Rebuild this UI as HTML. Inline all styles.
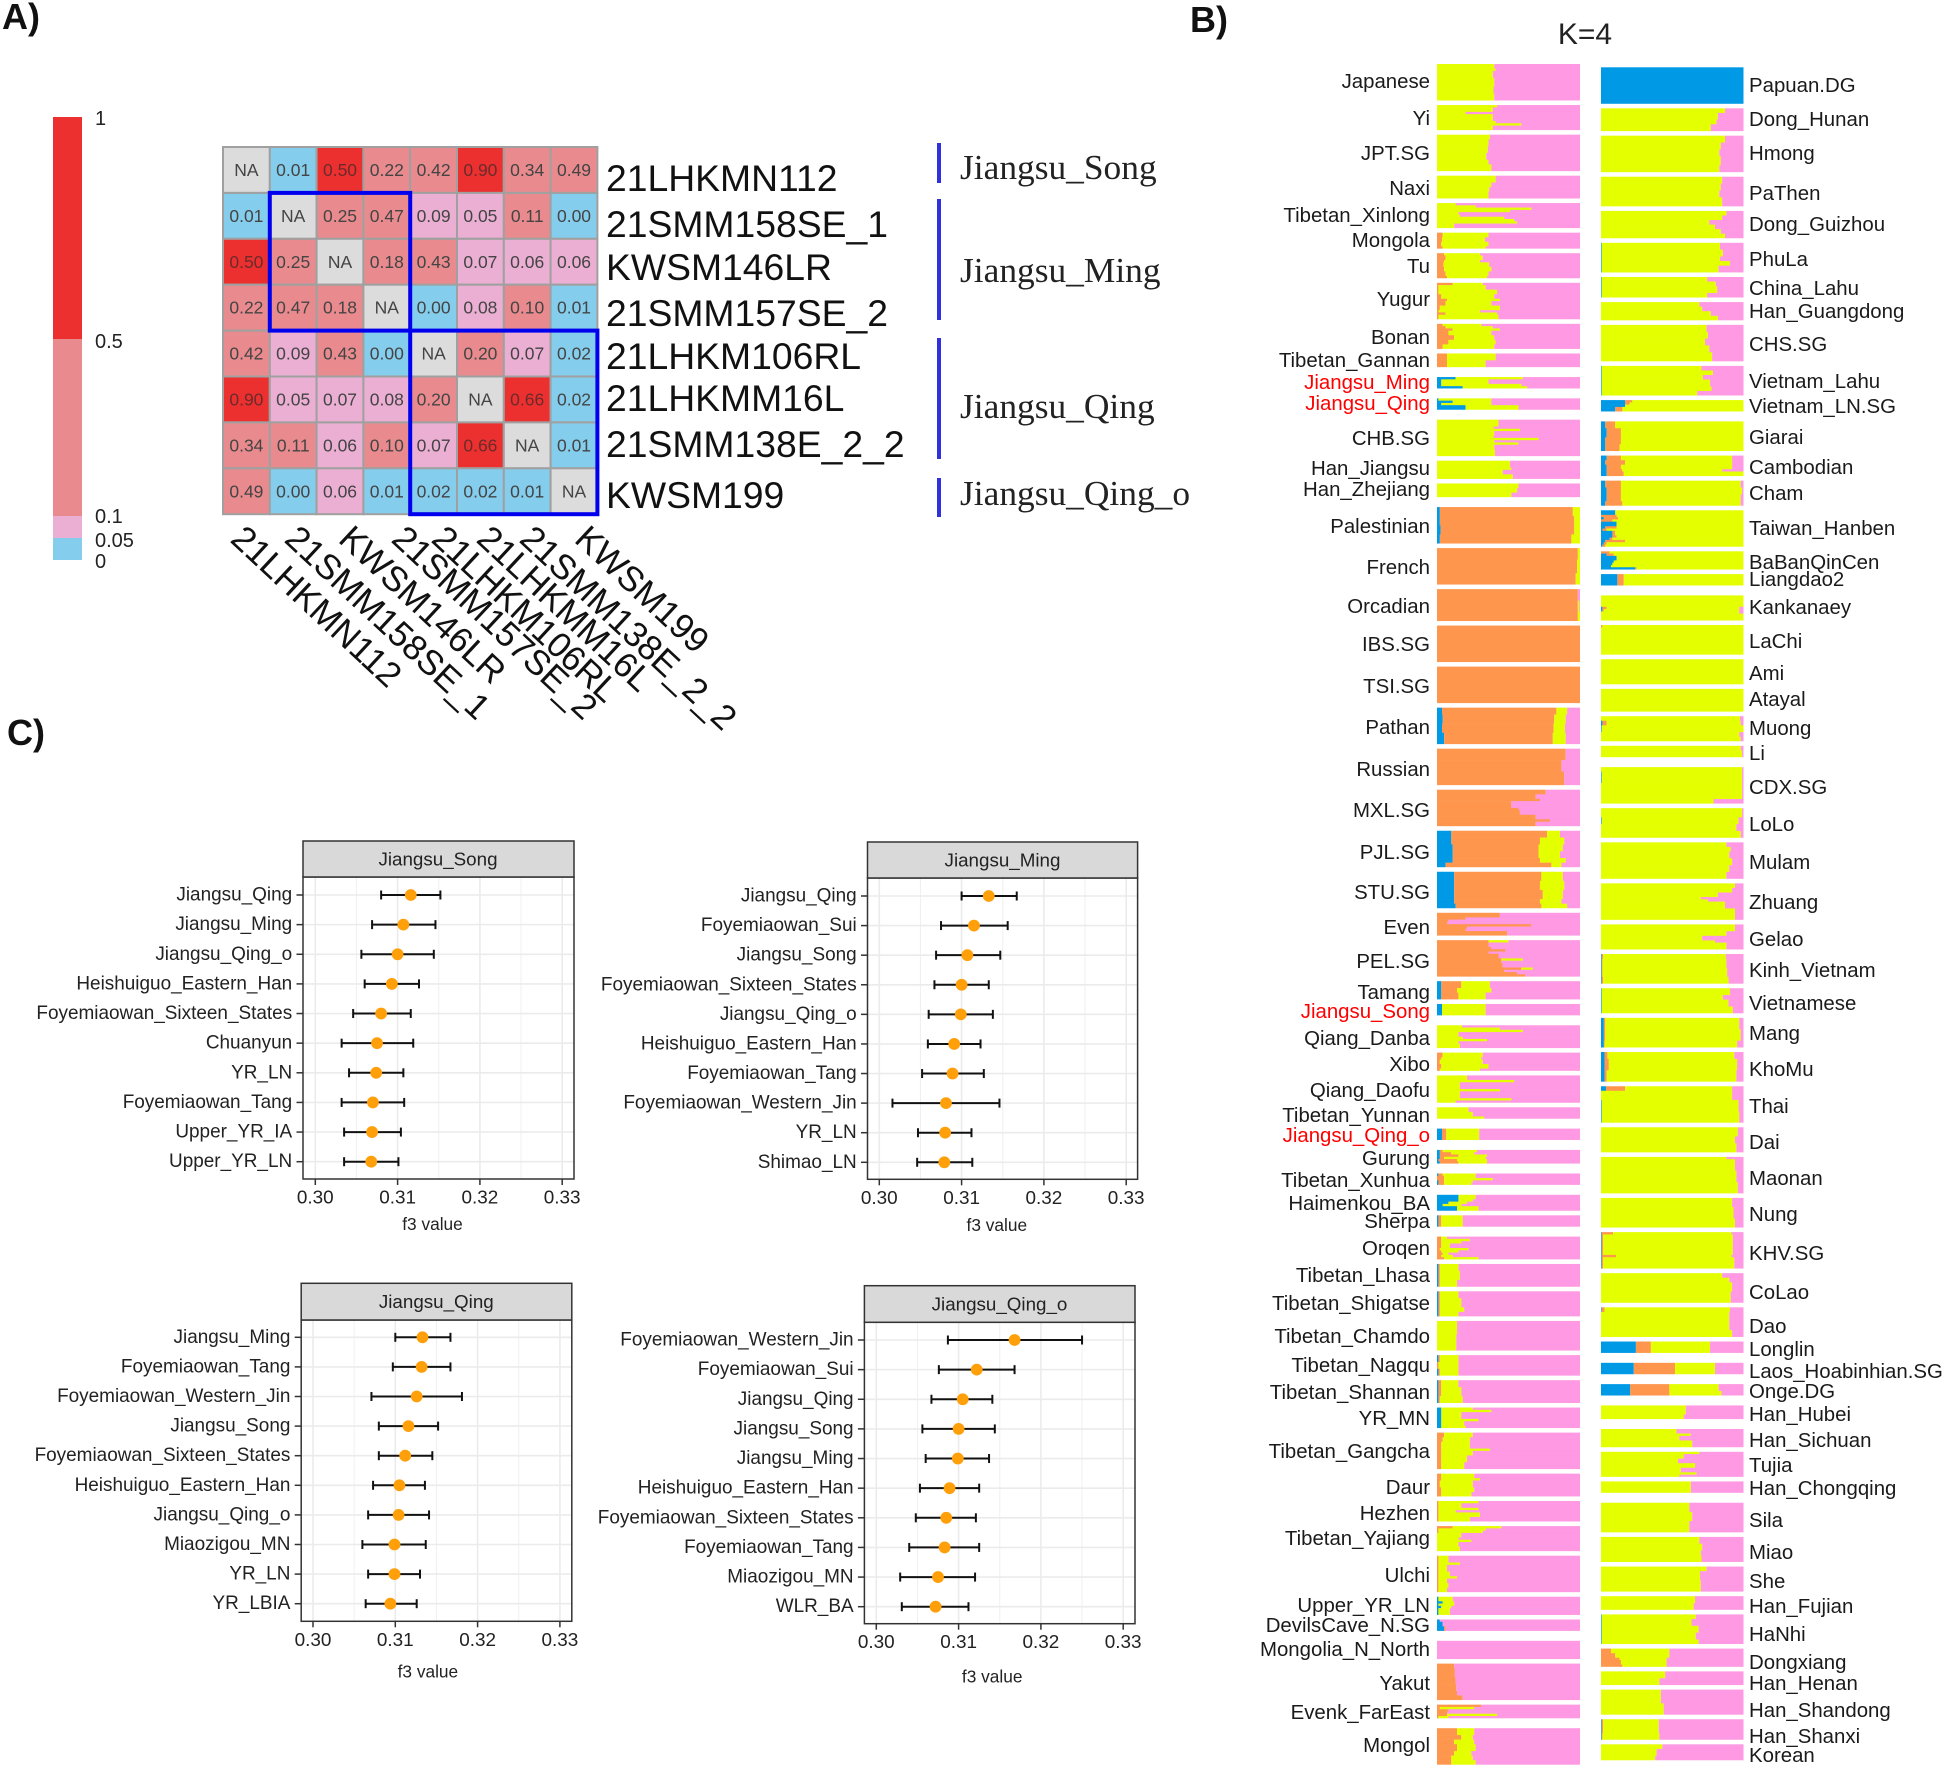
<!DOCTYPE html>
<html lang="en">
<head>
<meta charset="utf-8">
<title>Kinship heatmap, ADMIXTURE K=4 and f3 statistics</title>
<style>
html,body{margin:0;padding:0;background:#fff;}
svg{display:block;font-family:"Liberation Sans",sans-serif;}
.pl{font-size:20.4px;fill:#1a1a1a;dominant-baseline:central;}
.pe{text-anchor:end;}
.red{fill:#f00;}
.sn{font-size:37.3px;fill:#111;dominant-baseline:central;}
.gr{font-family:"Liberation Serif",serif;font-size:35.4px;fill:#222;dominant-baseline:central;}
.lg{font-size:20px;fill:#222;dominant-baseline:central;}
.pa{font-size:36px;font-weight:bold;fill:#111;}
</style>
</head>
<body>
<svg id="figure" xmlns="http://www.w3.org/2000/svg" width="1946" height="1768" viewBox="0 0 1946 1768">
<rect x="0" y="0" width="1946" height="1768" fill="#fff"/>
<text class="pa" x="2" y="29">A)</text>
<text class="pa" x="1190" y="32">B)</text>
<text class="pa" x="7" y="745">C)</text>
<text x="1585" y="44" text-anchor="middle" font-size="30" fill="#222">K=4</text>

<g id="heat-legend">
<text class="lg" x="95" y="119">1</text>
<text class="lg" x="95" y="342">0.5</text>
<text class="lg" x="95" y="517">0.1</text>
<text class="lg" x="95" y="541">0.05</text>
<text class="lg" x="95" y="562">0</text>
</g>
<g id="heatmap"></g>

<g>
<text class="sn" x="606" y="178">21LHKMN112</text>
<text class="sn" x="606" y="224">21SMM158SE_1</text>
<text class="sn" x="606" y="267">KWSM146LR</text>
<text class="sn" x="606" y="313">21SMM157SE_2</text>
<text class="sn" x="606" y="356">21LHKM106RL</text>
<text class="sn" x="606" y="398">21LHKMM16L</text>
<text class="sn" x="606" y="444">21SMM138E_2_2</text>
<text class="sn" x="606" y="495">KWSM199</text>
</g>
<g font-size="35" fill="#111">
<text transform="translate(229,541) rotate(43)">21LHKMN112</text>
<text transform="translate(283,541) rotate(43)">21SMM158SE_1</text>
<text transform="translate(337,541) rotate(43)">KWSM146LR</text>
<text transform="translate(390,541) rotate(43)">21SMM157SE_2</text>
<text transform="translate(430,541) rotate(43)">21LHKM106RL</text>
<text transform="translate(475,541) rotate(43)">21LHKMM16L</text>
<text transform="translate(518,541) rotate(43)">21SMM138E_2_2</text>
<text transform="translate(573,541) rotate(43)">KWSM199</text>
</g>
<g fill="#3030dd">
<rect x="937" y="143" width="4" height="40"/>
<rect x="937" y="199" width="4" height="121"/>
<rect x="937" y="338" width="4" height="121"/>
<rect x="937" y="478" width="4" height="39"/>
</g>
<text class="gr" x="960" y="167">Jiangsu_Song</text>
<text class="gr" x="960" y="270">Jiangsu_Ming</text>
<text class="gr" x="960" y="406">Jiangsu_Qing</text>
<text class="gr" x="960" y="493">Jiangsu_Qing_o</text>

<g id="structure-left"></g>
<g id="structure-right"></g>

<g transform="translate(0,1)">
<text class="pl pe" x="1430" y="81">Japanese</text>
<text class="pl pe" x="1430" y="118">Yi</text>
<text class="pl pe" x="1430" y="153">JPT.SG</text>
<text class="pl pe" x="1430" y="188">Naxi</text>
<text class="pl pe" x="1430" y="215">Tibetan_Xinlong</text>
<text class="pl pe" x="1430" y="240">Mongola</text>
<text class="pl pe" x="1430" y="266">Tu</text>
<text class="pl pe" x="1430" y="299">Yugur</text>
<text class="pl pe" x="1430" y="337">Bonan</text>
<text class="pl pe" x="1430" y="360">Tibetan_Gannan</text>
<text class="pl pe red" x="1430" y="382">Jiangsu_Ming</text>
<text class="pl pe red" x="1430" y="403">Jiangsu_Qing</text>
<text class="pl pe" x="1430" y="438">CHB.SG</text>
<text class="pl pe" x="1430" y="468">Han_Jiangsu</text>
<text class="pl pe" x="1430" y="489">Han_Zhejiang</text>
<text class="pl pe" x="1430" y="526">Palestinian</text>
<text class="pl pe" x="1430" y="567">French</text>
<text class="pl pe" x="1430" y="606">Orcadian</text>
<text class="pl pe" x="1430" y="644">IBS.SG</text>
<text class="pl pe" x="1430" y="686">TSI.SG</text>
<text class="pl pe" x="1430" y="727">Pathan</text>
<text class="pl pe" x="1430" y="769">Russian</text>
<text class="pl pe" x="1430" y="810">MXL.SG</text>
<text class="pl pe" x="1430" y="852">PJL.SG</text>
<text class="pl pe" x="1430" y="892">STU.SG</text>
<text class="pl pe" x="1430" y="927">Even</text>
<text class="pl pe" x="1430" y="961">PEL.SG</text>
<text class="pl pe" x="1430" y="992">Tamang</text>
<text class="pl pe red" x="1430" y="1011">Jiangsu_Song</text>
<text class="pl pe" x="1430" y="1038">Qiang_Danba</text>
<text class="pl pe" x="1430" y="1064">Xibo</text>
<text class="pl pe" x="1430" y="1090">Qiang_Daofu</text>
<text class="pl pe" x="1430" y="1115">Tibetan_Yunnan</text>
<text class="pl pe red" x="1430" y="1135">Jiangsu_Qing_o</text>
<text class="pl pe" x="1430" y="1158">Gurung</text>
<text class="pl pe" x="1430" y="1180">Tibetan_Xunhua</text>
<text class="pl pe" x="1430" y="1203">Haimenkou_BA</text>
<text class="pl pe" x="1430" y="1221">Sherpa</text>
<text class="pl pe" x="1430" y="1248">Oroqen</text>
<text class="pl pe" x="1430" y="1275">Tibetan_Lhasa</text>
<text class="pl pe" x="1430" y="1303">Tibetan_Shigatse</text>
<text class="pl pe" x="1430" y="1336">Tibetan_Chamdo</text>
<text class="pl pe" x="1430" y="1365">Tibetan_Nagqu</text>
<text class="pl pe" x="1430" y="1392">Tibetan_Shannan</text>
<text class="pl pe" x="1430" y="1418">YR_MN</text>
<text class="pl pe" x="1430" y="1451">Tibetan_Gangcha</text>
<text class="pl pe" x="1430" y="1487">Daur</text>
<text class="pl pe" x="1430" y="1513">Hezhen</text>
<text class="pl pe" x="1430" y="1538">Tibetan_Yajiang</text>
<text class="pl pe" x="1430" y="1575">Ulchi</text>
<text class="pl pe" x="1430" y="1605">Upper_YR_LN</text>
<text class="pl pe" x="1430" y="1625">DevilsCave_N.SG</text>
<text class="pl pe" x="1430" y="1649">Mongolia_N_North</text>
<text class="pl pe" x="1430" y="1683">Yakut</text>
<text class="pl pe" x="1430" y="1712">Evenk_FarEast</text>
<text class="pl pe" x="1430" y="1745">Mongol</text>
</g>
<g transform="translate(0,1)">
<text class="pl" x="1749" y="85">Papuan.DG</text>
<text class="pl" x="1749" y="119">Dong_Hunan</text>
<text class="pl" x="1749" y="153">Hmong</text>
<text class="pl" x="1749" y="193">PaThen</text>
<text class="pl" x="1749" y="224">Dong_Guizhou</text>
<text class="pl" x="1749" y="259">PhuLa</text>
<text class="pl" x="1749" y="288">China_Lahu</text>
<text class="pl" x="1749" y="311">Han_Guangdong</text>
<text class="pl" x="1749" y="344">CHS.SG</text>
<text class="pl" x="1749" y="381">Vietnam_Lahu</text>
<text class="pl" x="1749" y="406">Vietnam_LN.SG</text>
<text class="pl" x="1749" y="437">Giarai</text>
<text class="pl" x="1749" y="467">Cambodian</text>
<text class="pl" x="1749" y="493">Cham</text>
<text class="pl" x="1749" y="528">Taiwan_Hanben</text>
<text class="pl" x="1749" y="562">BaBanQinCen</text>
<text class="pl" x="1749" y="579">Liangdao2</text>
<text class="pl" x="1749" y="607">Kankanaey</text>
<text class="pl" x="1749" y="641">LaChi</text>
<text class="pl" x="1749" y="673">Ami</text>
<text class="pl" x="1749" y="699">Atayal</text>
<text class="pl" x="1749" y="728">Muong</text>
<text class="pl" x="1749" y="753">Li</text>
<text class="pl" x="1749" y="787">CDX.SG</text>
<text class="pl" x="1749" y="824">LoLo</text>
<text class="pl" x="1749" y="862">Mulam</text>
<text class="pl" x="1749" y="902">Zhuang</text>
<text class="pl" x="1749" y="939">Gelao</text>
<text class="pl" x="1749" y="970">Kinh_Vietnam</text>
<text class="pl" x="1749" y="1003">Vietnamese</text>
<text class="pl" x="1749" y="1033">Mang</text>
<text class="pl" x="1749" y="1069">KhoMu</text>
<text class="pl" x="1749" y="1106">Thai</text>
<text class="pl" x="1749" y="1142">Dai</text>
<text class="pl" x="1749" y="1178">Maonan</text>
<text class="pl" x="1749" y="1214">Nung</text>
<text class="pl" x="1749" y="1253">KHV.SG</text>
<text class="pl" x="1749" y="1292">CoLao</text>
<text class="pl" x="1749" y="1326">Dao</text>
<text class="pl" x="1749" y="1349">Longlin</text>
<text class="pl" x="1749" y="1371">Laos_Hoabinhian.SG</text>
<text class="pl" x="1749" y="1391">Onge.DG</text>
<text class="pl" x="1749" y="1414">Han_Hubei</text>
<text class="pl" x="1749" y="1440">Han_Sichuan</text>
<text class="pl" x="1749" y="1465">Tujia</text>
<text class="pl" x="1749" y="1488">Han_Chongqing</text>
<text class="pl" x="1749" y="1520">Sila</text>
<text class="pl" x="1749" y="1552">Miao</text>
<text class="pl" x="1749" y="1581">She</text>
<text class="pl" x="1749" y="1606">Han_Fujian</text>
<text class="pl" x="1749" y="1634">HaNhi</text>
<text class="pl" x="1749" y="1662">Dongxiang</text>
<text class="pl" x="1749" y="1683">Han_Henan</text>
<text class="pl" x="1749" y="1710">Han_Shandong</text>
<text class="pl" x="1749" y="1736">Han_Shanxi</text>
<text class="pl" x="1749" y="1755">Korean</text>
</g>

<g id="forest-song"></g>
<g id="forest-ming"></g>
<g id="forest-qing"></g>
<g id="forest-qingo"></g>
</svg>

<script>
/* ---------- Heatmap data ---------- */
const kinshipMatrix = [
  [null,0.01,0.50,0.22,0.42,0.90,0.34,0.49],
  [0.01,null,0.25,0.47,0.09,0.05,0.11,0.00],
  [0.50,0.25,null,0.18,0.43,0.07,0.06,0.06],
  [0.22,0.47,0.18,null,0.00,0.08,0.10,0.01],
  [0.42,0.09,0.43,0.00,null,0.20,0.07,0.02],
  [0.90,0.05,0.07,0.08,0.20,null,0.66,0.02],
  [0.34,0.11,0.06,0.10,0.07,0.66,null,0.01],
  [0.49,0.00,0.06,0.01,0.02,0.02,0.01,null]
];
const legendBreaks = [1,0.5,0.1,0.05,0];

/* ---------- f3 data ---------- */
const songLabels = ["Jiangsu_Qing","Jiangsu_Ming","Jiangsu_Qing_o","Heishuiguo_Eastern_Han","Foyemiaowan_Sixteen_States","Chuanyun","YR_LN","Foyemiaowan_Tang","Upper_YR_IA","Upper_YR_LN"];
const songF3 = [0.3116,0.3107,0.3100,0.3093,0.3080,0.3075,0.3074,0.3070,0.3069,0.3068];
const songLow = [0.3080,0.3069,0.3056,0.3060,0.3046,0.3032,0.3041,0.3032,0.3035,0.3035];
const songHigh = [0.3152,0.3146,0.3144,0.3126,0.3116,0.3119,0.3107,0.3108,0.3104,0.3101];

const mingLabels = ["Jiangsu_Qing","Foyemiaowan_Sui","Jiangsu_Song","Foyemiaowan_Sixteen_States","Jiangsu_Qing_o","Heishuiguo_Eastern_Han","Foyemiaowan_Tang","Foyemiaowan_Western_Jin","YR_LN","Shimao_LN"];
const mingF3 = [0.3133,0.3115,0.3107,0.3100,0.3099,0.3091,0.3089,0.3081,0.3080,0.3079];
const mingLow = [0.3100,0.3075,0.3069,0.3067,0.3060,0.3059,0.3052,0.3016,0.3047,0.3046];
const mingHigh = [0.3167,0.3156,0.3147,0.3133,0.3138,0.3123,0.3127,0.3146,0.3112,0.3113];

const qingLabels = ["Jiangsu_Ming","Foyemiaowan_Tang","Foyemiaowan_Western_Jin","Jiangsu_Song","Foyemiaowan_Sixteen_States","Heishuiguo_Eastern_Han","Jiangsu_Qing_o","Miaozigou_MN","YR_LN","YR_LBIA"];
const qingF3 = [0.3133,0.3132,0.3126,0.3116,0.3112,0.3105,0.3104,0.3099,0.3099,0.3094];
const qingLow = [0.3100,0.3097,0.3071,0.3080,0.3080,0.3073,0.3067,0.3060,0.3067,0.3064];
const qingHigh = [0.3167,0.3167,0.3181,0.3152,0.3145,0.3136,0.3141,0.3137,0.3130,0.3126];

const qingoLabels = ["Foyemiaowan_Western_Jin","Foyemiaowan_Sui","Jiangsu_Qing","Jiangsu_Song","Jiangsu_Ming","Heishuiguo_Eastern_Han","Foyemiaowan_Sixteen_States","Foyemiaowan_Tang","Miaozigou_MN","WLR_BA"];
const qingoF3 = [0.3168,0.3122,0.3105,0.3100,0.3099,0.3089,0.3085,0.3083,0.3075,0.3072];
const qingoLow = [0.3087,0.3076,0.3067,0.3056,0.3060,0.3053,0.3048,0.3040,0.3029,0.3031];
const qingoHigh = [0.3250,0.3168,0.3141,0.3144,0.3137,0.3125,0.3121,0.3125,0.3120,0.3112];

const f3Ticks = [0.30,0.31,0.32,0.33];
const f3MinorTicks = [0.305,0.315,0.325];

/* ---------- ADMIXTURE data: each profile row = [individuals, blue %, orange %, yellow %]; pink is the rest ---------- */
const leftPopulations = ["Japanese","Yi","JPT.SG","Naxi","Tibetan_Xinlong","Mongola","Tu","Yugur","Bonan","Tibetan_Gannan","Jiangsu_Ming","Jiangsu_Qing","CHB.SG","Han_Jiangsu","Han_Zhejiang","Palestinian","French","Orcadian","IBS.SG","TSI.SG","Pathan","Russian","MXL.SG","PJL.SG","STU.SG","Even","PEL.SG","Tamang","Jiangsu_Song","Qiang_Danba","Xibo","Qiang_Daofu","Tibetan_Yunnan","Jiangsu_Qing_o","Gurung","Tibetan_Xunhua","Haimenkou_BA","Sherpa","Oroqen","Tibetan_Lhasa","Tibetan_Shigatse","Tibetan_Chamdo","Tibetan_Nagqu","Tibetan_Shannan","YR_MN","Tibetan_Gangcha","Daur","Hezhen","Tibetan_Yajiang","Ulchi","Upper_YR_LN","DevilsCave_N.SG","Mongolia_N_North","Yakut","Evenk_FarEast","Mongol"];
const leftWideGapAfter = ["Tibetan_Gannan","Jiangsu_Ming","Jiangsu_Qing","Han_Zhejiang","Jiangsu_Song","Tibetan_Yunnan","Jiangsu_Qing_o","Gurung","Tibetan_Xunhua","Sherpa","DevilsCave_N.SG","Evenk_FarEast"];
const leftProfiles = [
[[2,0,0,40],[1,0,0,41],[3,0,0,39],[4,0,0,40],[3,0,0,39.5],[3,0,0,40]],
[[1,0,0,42],[2,0,0,39],[1,0,0,20],[3,0,0,39],[1,0,0,41],[1,0,0,59],[2,0,0,39]],
[[2,0,0,37],[3,0,0,36],[3,0,0,35.5],[3,0,0,34.5],[2,0,0,36],[3,0,0,38]],
[[3,0,0,41],[2,0,0,38],[2,0,0,36.5],[3,0,0,36]],
[[1,0,0,13],[1,0,0,27],[1,0,0,66],[1,0,0,51],[1,0,0,15],[1,0,0,16],[1,0,0,47],[1,0,0,54],[1,0,0,56],[2,0,0,12]],
[[2,0,4,32],[2,0,3.5,30],[2,0,3,33],[1,0,4,30]],
[[1,0,5,25],[2,0,6,26],[1,0,5,25],[2,0,4.5,32],[2,0,5,33],[2,0,6,30],[1,0,7,28]],
[[1,0,11,21],[2,0,1,33],[2,0,1,41],[2,0,3,37],[1,0,7,37],[2,0,6,32],[2,0,2,42],[1,0,1,29],[1,0,6,36],[2,0,1,42]],
[[1,0,4,27],[1,0,6,33],[1,0,11,33],[2,0,8,30],[2,0,12,28],[2,0,8,33],[2,0,4,36]],
[[3,0,7,34],[3,0,7,27]],
[[1,13,0,47],[1,3,0,33],[1,3,0,33],[1,3,0,56],[1,18,0,45]],
[[1,1,0,37],[1,11,0,27],[1,3,0,35],[1,20,0,37],[1,20,0,37]],
[[3,0,0,43],[1,0,0,39.5],[1,0,0,58],[2,0,0,40],[1,0,0,39.5],[1,0,0,71],[1,0,0,40],[1,0,0,57],[2,0,0,40],[3,0,0,40.5]],
[[3,0,0,51],[1,0,0,52],[2,0,0,46],[2,0,0,53]],
[[2,0,0,57],[2,0,0,56],[2,0,0,52]],
[[4,2,93,5],[4,2,94,4],[4,2.5,93.5,4],[4,2,92,6]],
[[5,0,98.5,1.5],[6,0,98,2],[5,0,97,3]],
[[5,0,98.5,0],[5,0,98.5,1],[4,0,98.5,1.5]],
[[16,0,100,0]],
[[16,0,100,0]],
[[3,3.5,80,7.5],[4,4,78,8],[4,3.5,78,8],[5,5,76,9]],
[[5,0,90,0],[5,0,87,0],[6,0,89,0]],
[[2,0,76,0],[2,0,69,0],[1,0,72,0],[3,0,52,0],[1,0,57,0],[2,0,58,0],[2,0,69,0],[1,0,79,0],[2,0,69,0]],
[[3,10,67,9],[3,10,62,17],[3,11,60,17],[3,11,60,15],[2,11,61,18],[2,6,74,7]],
[[4,12,61,15],[4,12,60,17],[4,12,62,14],[2,12,60,15],[2,13,60,18]],
[[2,0,44,0],[1,0,20,0],[1,0,8,0],[1,0,7,0],[1,0,66,0],[1,0,21,0],[1,0,20,0],[2,0,49,0]],
[[1,0,36,14],[2,0,36,0],[1,0,38,0],[1,0,48,0],[1,0,36,0],[2,0,43,0],[1,0,45,15],[1,0,45,0],[2,0,46,0],[1,0,59,8],[1,0,47,0],[1,0,56,0],[1,0,62,0]],
[[3,3,14,20],[2,3,11,24],[3,3,12,19]],
[[5,3.5,0,30.5]],
[[1,0,0,17.5],[1,0,0,44],[1,0,0,60],[2,0,0,15],[1,0,0,18],[1,0,0,35],[1,0,0,15],[2,0,0,16]],
[[2,0,4,28],[1,0,3,28],[2,0,2,30],[2,0,3,33],[1,0,2,28]],
[[2,0,0,21],[1,0,0,54],[1,0,0,16],[2,0,0,16],[1,0,0,44],[1,0,0,16],[2,0,0,16],[1,0,0,52],[1,0,0,13]],
[[2,0,0,22],[2,0,0,25],[1,0,0,33]],
[[5,3.5,3,23]],
[[1,2,2,24],[1,2,8,16],[1,2,13,20],[1,2,3,29],[1,1,13,21],[1,2,13,20]],
[[1,1,3,23],[1,0,5,22],[1,0,5,34],[1,1,4,20],[1,1,4,19]],
[[2,15,0,12],[1,15,0,10],[1,8,0,13],[1,4,0,13],[1,14,0,15],[1,14,0,15]],
[[5,1,2,15]],
[[1,0,3,4],[1,0,3,20],[1,0,3,14],[2,0,3,6],[1,0,2,20],[1,0,3,12],[1,0,4,4],[1,0,3,8],[1,0,5,24]],
[[3,1,1,13],[4,1,1,14],[3,1,1,12]],
[[3,1,1,13],[4,1,1,15],[2,1,1,17],[2,1,1,13]],
[[6,0,0,14],[7,0,0,13.5]],
[[3,1,1,13],[3,0,1,14],[3,1,1,13]],
[[3,1,2,12],[4,1,2,14],[3,1,1,16]],
[[1,3,0,22],[1,3,0,35],[1,3,0,14],[2,3,0,14],[1,3,0,26],[2,3,0,16],[1,3,0,17]],
[[2,0,5,20],[2,0,4,19],[3,0,3,20],[1,0,3,34],[2,0,3,22],[3,0,3,18],[3,0,3,16]],
[[2,0,3,23],[1,0,3,27],[3,0,2,23],[2,0,3,23],[2,0,3,21]],
[[1,0,1,28],[2,0,1,16],[1,0,1,28],[1,0,1,12],[2,0,1,29],[2,0,1,22]],
[[1,0,11,34],[1,0,1,33],[1,0,1,31],[2,0,0,17],[1,0,0,15],[1,0,0,24],[2,0,0,15],[2,0,0,16]],
[[3,0,1,7],[1,0,1,15],[3,0,1,6],[2,0,1,8],[1,0,1,13],[2,0,1,6],[2,0,1,7],[2,0,1,6]],
[[2,1,0,10],[1,4,0,8],[1,1,0,11],[1,3,0,7],[3,1,0,8]],
[[1,2,0,0],[2,4,0,0],[2,5,1,0]],
[[8,0,0,0]],
[[2,0,12,0],[4,0,12.5,0],[3,0,13,0],[3,0,13.5,0],[2,0,14,0],[2,0,18,0]],
[[1,0,31,0],[1,0,2,24],[1,0,8,0],[1,0,7,0],[1,0,7,35],[1,0,1,7]],
[[3,0,14,12],[2,0,17,8],[2,0,12,14],[3,0,14,13],[2,0,12,12],[2,0,10,15],[2,0,10,17]]
];

const rightPopulations = ["Papuan.DG","Dong_Hunan","Hmong","PaThen","Dong_Guizhou","PhuLa","China_Lahu","Han_Guangdong","CHS.SG","Vietnam_Lahu","Vietnam_LN.SG","Giarai","Cambodian","Cham","Taiwan_Hanben","BaBanQinCen","Liangdao2","Kankanaey","LaChi","Ami","Atayal","Muong","Li","CDX.SG","LoLo","Mulam","Zhuang","Gelao","Kinh_Vietnam","Vietnamese","Mang","KhoMu","Thai","Dai","Maonan","Nung","KHV.SG","CoLao","Dao","Longlin","Laos_Hoabinhian.SG","Onge.DG","Han_Hubei","Han_Sichuan","Tujia","Han_Chongqing","Sila","Miao","She","Han_Fujian","HaNhi","Dongxiang","Han_Henan","Han_Shandong","Han_Shanxi","Korean"];
const rightWideGapAfter = ["Vietnam_LN.SG","Liangdao2","Li","Longlin","Laos_Hoabinhian.SG","Onge.DG","Han_Hubei","Han_Chongqing"];
const rightProfiles = [
[[16,100,0,0]],
[[2,0,0,87],[3,0,0,82],[2,0,0,81],[1,0,0,77],[2,0,0,77]],
[[3,0,0,87],[3,0,0,84],[3,0,0,83],[4,0,0,84],[3,0,0,83]],
[[3,0,0,85],[3,0,0,84],[3,0,0,83],[4,0,0,85]],
[[2,0,0,88],[2,0,0,85],[2,0,0,76],[2,0,0,80],[2,0,0,84],[2,0,0,87]],
[[3,0.5,0,83],[3,0.5,0,85],[2,0.5,0,83],[2,0.5,0,90],[3,0.5,0,82]],
[[2,0.5,0,74],[2,0.5,0,80],[3,0.5,0,81],[2,0.5,0,74]],
[[2,0,0,69],[2,0,0,71],[2,0,0,77],[2,0,0,82]],
[[3,0,0,74],[3,0,0,75],[3,0,0,73],[3,0,0,76],[4,0,0,78]],
[[2,0.5,0,70],[2,0.5,0,78],[2,0.5,0,71],[3,0.5,0,76],[2,0.5,0,77],[2,0.5,0,67]],
[[1,17,5,78],[1,17,3,80],[1,17,0,83],[1,10,5,85],[1,10,5,85]],
[[3,3,7,90],[4,4,10,86],[3,3,11,86],[3,3,10,87]],
[[2,4,10,78],[2,3,14,75],[2,4,10,78],[1,4,11,70],[2,4,12,84]],
[[3,3,11,84],[3,4,10,85],[3,4,10,84],[2,3,12,83]],
[[2,10,0,90],[1,0,11,89],[1,2,10,88],[1,0,8,92],[2,11,0,89],[1,3,8,89],[1,1,3,96],[2,8,2,90],[1,8,3,89],[1,6,2,92],[1,3,14,83],[1,2,2,96],[1,1,2,97]],
[[1,0,6,94],[1,4,5,91],[2,11,0,89],[1,9,0,91],[1,8,0,92],[1,7,0,93],[1,24,1,75]],
[[5,11.5,4.5,84]],
[[5,0,0,100],[1,1,3,93],[1,1,1,95],[1,0,0,97],[3,0,0,100]],
[[1,0,1,99],[12,0,0,100]],
[[11,0,0,100]],
[[10,0,0,100]],
[[2,0,0,97.5],[2,1,3,94],[3,0.5,0,99.5],[2,0,0,97],[2,0,0,98]],
[[2,0,0,98],[3,0,0,99]],
[[2,0,0,99],[5,0.5,0,98.5],[7,0,0,99],[2,0,0,79]],
[[4,0,0,99],[3,0.5,0,96],[3,0,0,95],[3,0,0,98]],
[[2,0,0,88],[2,0,0,91],[3,0,0,90],[3,0,0,92],[3,0,0,90],[3,0,0,88]],
[[2,0,0,94],[2,0,0,92],[2,0,0,82],[1,0,0,70],[1,0,0,75],[3,0,0,87],[2,0,0,94],[3,0,0,94]],
[[3,0,0,94],[2,0,0,88],[2,0,0,71],[1,0,0,80],[3,0,0,88]],
[[2,0.5,1,86],[4,0.5,0.5,87],[4,0.5,0.5,87.5],[3,0.5,1,88]],
[[3,0.5,0,90],[2,0.5,0,85],[3,0.5,0,89],[3,0.5,0,92]],
[[5,2,1,94],[5,2,1,95],[3,2,0.5,93]],
[[3,2.5,2,89],[5,2.5,3,90],[5,2.5,1.5,91]],
[[2,3.5,13.5,75],[4,0,0,92],[5,0.5,0,96],[5,0.5,0,96.5]],
[[4,0,0,96],[3,0,0,94],[4,0,0,95]],
[[1,0,0,88],[5,0,0,94],[5,0,0,95],[5,0,0,96]],
[[4,0,0,92],[5,0,0,93],[4,0,0,94]],
[[1,0.5,8,83],[5,0.5,1,91],[4,0.5,1,91],[1,0.5,10,81],[5,0.5,1,92]],
[[2,0,0,85],[2,0,0,90],[4,0,0,92],[5,0,0,91]],
[[2,0.5,2,88],[4,0,0,90],[4,0,0,90],[3,0,0,92]],
[[5,24.5,10.5,41.5]],
[[5,23,29,28]],
[[3,20.5,27.5,34.5],[2,20.5,27.5,36.5]],
[[4,0,0,59.5],[2,0,0,58]],
[[2,0,0,53],[1,0,0,63],[2,0,0,55],[3,0,0,64]],
[[1,0,0,69],[2,0,0,58],[2,0,0,54],[2,0,0,66],[2,0,0,56],[1,0,0,67],[1,0,0,55]],
[[5,0,0,63]],
[[4,0,0,62],[4,0,0,64],[5,0,0,62]],
[[3,0,0,69],[3,0,0,71],[2,0,0,70],[3,0,0,70.5]],
[[2,0,0,74],[4,0,0,69.5],[5,0,0,70]],
[[3,0,0,66],[3,0,0,65]],
[[2,0.5,0,66],[3,0.5,0,63],[3,0.5,0,68],[3,0.5,0,66],[2,0.5,0,68]],
[[2,0,7,41],[2,0,10,38],[1,0,13,33],[2,0,14,32],[1,0,15,31]],
[[3,0,0,45],[3,0,0,41]],
[[3,0,0,42],[3,0,0,42],[5,0,0,44]],
[[2,0.5,1,39],[4,0.5,1,39],[3,0.5,0.5,40]],
[[2,0,0,43],[3,0,0,39],[2,0,0,38]]
];

/* ---------- Helpers ---------- */
const SVGNS = "http://www.w3.org/2000/svg";
function svgEl(tag, attrs, parent) {
  const el = document.createElementNS(SVGNS, tag);
  for (const k in attrs) el.setAttribute(k, attrs[k]);
  parent.appendChild(el);
  return el;
}
function slug(s) { return String(s).toLowerCase().replace(/[^a-z0-9]+/g, '-'); }

/* ---------- Legend ---------- */
(function drawLegend() {
  const host = document.getElementById('heat-legend');
  const legendY = v => v >= 0.5 ? 117 + (1 - v) / 0.5 * 222 : v >= 0.1 ? 339 + (0.5 - v) / 0.4 * 177 : v >= 0.05 ? 516 + (0.1 - v) / 0.05 * 22 : 538 + (0.05 - v) / 0.05 * 22;
  for (let i = 0; i < legendBreaks.length - 1; i++) {
    const hi = legendBreaks[i], lo = legendBreaks[i + 1];
    const r = svgEl('rect', {x: 53, y: legendY(hi), width: 29, height: legendY(lo) - legendY(hi), fill: heatColor(lo)}, host);
    
    
  }
})();
function heatColor(v) {
  if (v === null) return '#dcdcdc';
  if (v >= 0.5) return '#ec3030';
  if (v >= 0.095) return '#e98b8e';
  if (v >= 0.045) return '#eaafd3';
  return '#84cdec';
}

/* ---------- Heatmap ---------- */
(function drawHeatmap() {
  const host = document.getElementById('heatmap');
  const X0 = 223, Y0 = 147, CW = 46.8, CH = 45.9;
  const cx = j => X0 + j * CW;
  const cy = i => Y0 + i * CH;
  kinshipMatrix.forEach((row, i) => row.forEach((v, j) => {
    const r = svgEl('rect', {x: cx(j), y: cy(i), width: CW, height: CH, fill: heatColor(v), stroke: '#a0a0a0', 'stroke-width': 2}, host);
    
    
    const t = svgEl('text', {x: cx(j) + CW / 2, y: cy(i) + CH / 2, 'text-anchor': 'middle', 'dominant-baseline': 'central', 'font-size': 17.5, fill: v !== null && v >= 0.5 ? '#6d2a2a' : '#444'}, host);
    t.textContent = v === null ? 'NA' : v.toFixed(2);
    
    
  }));
  const box1 = svgEl('rect', {x: cx(1), y: cy(1), width: CW * 3, height: CH * 3, fill: 'none', stroke: '#0000ee', 'stroke-width': 4}, host);
  
  
  const box2 = svgEl('rect', {x: cx(4), y: cy(4), width: CW * 4, height: CH * 4, fill: 'none', stroke: '#0000ee', 'stroke-width': 4}, host);
  
  
})();

/* ---------- ADMIXTURE bars ---------- */
const ROW_H = 2.28, GAP = 4.55, WIDE_GAP = 9.9;
const ANCESTRY_COLORS = ['#0099e6', '#ff964d', '#e4ff00', '#ff99e3'];
function drawStructure(hostId, names, profiles, wide, x0, barWidth, y0) {
  const host = document.getElementById(hostId);
  const xScale = pct => x0 + pct / 100 * barWidth;
  let y = y0;
  names.forEach((name, p) => {
    const pop = svgEl('g', {}, host);
    
    
    const rows = profiles[p];
    rows.forEach((row, ri) => {
      const h = row[0] * ROW_H;
      const vals = [row[1], row[2], row[3], Math.max(0, 100 - row[1] - row[2] - row[3])];
      let acc = 0;
      vals.forEach((w, k) => {
        if (w <= 0) return;
        const r = svgEl('rect', {x: xScale(acc), y: y, width: xScale(acc + w) - xScale(acc), height: h + (ri < rows.length - 1 ? 0.3 : 0), fill: ANCESTRY_COLORS[k]}, pop);
        
        
        acc += w;
      });
      y += h;
    });
    y += wide.includes(name) ? WIDE_GAP : GAP;
  });
}
drawStructure('structure-left', leftPopulations, leftProfiles, leftWideGapAfter, 1437, 143, 64);
drawStructure('structure-right', rightPopulations, rightProfiles, rightWideGapAfter, 1601, 142.5, 67.3);

/* ---------- f3 forest panels ---------- */
function drawForest(hostId, title, labels, f3, low, high, g) {
  const host = document.getElementById(hostId);
  const xScale = v => g.x30 + (v - 0.30) / 0.01 * 82.3;
  const yScale = i => g.yFirst + i * (g.yLast - g.yFirst) / (labels.length - 1);
  const frame = svgEl('rect', {x: g.left, y: g.top, width: g.right - g.left, height: g.bottom - g.top, fill: '#fff'}, host);
  
  
  f3MinorTicks.forEach(t => {
    const l = svgEl('line', {x1: xScale(t), x2: xScale(t), y1: g.top, y2: g.bottom, stroke: '#f0f0f0', 'stroke-width': 1}, host);
    
    
  });
  f3Ticks.forEach(t => {
    const l = svgEl('line', {x1: xScale(t), x2: xScale(t), y1: g.top, y2: g.bottom, stroke: '#ebebeb', 'stroke-width': 1.6}, host);
    
    
    const tk = svgEl('line', {x1: xScale(t), x2: xScale(t), y1: g.bottom, y2: g.bottom + 6, stroke: '#333', 'stroke-width': 1.5}, host);
    
    
    const tl = svgEl('text', {x: xScale(t), y: g.bottom + 19, 'text-anchor': 'middle', 'dominant-baseline': 'central', 'font-size': 18.9, fill: '#222'}, host);
    tl.textContent = t.toFixed(2);
    
    
  });
  labels.forEach((name, i) => {
    const y = yScale(i);
    const gl = svgEl('line', {x1: g.left, x2: g.right, y1: y, y2: y, stroke: '#ebebeb', 'stroke-width': 1.6}, host);
    
    
    const tk = svgEl('line', {x1: g.left - 6.5, x2: g.left, y1: y, y2: y, stroke: '#333', 'stroke-width': 1.5}, host);
    
    
    const tl = svgEl('text', {x: g.left - 10.8, y: y, 'text-anchor': 'end', 'dominant-baseline': 'central', 'font-size': 18.95, fill: '#222'}, host);
    tl.textContent = name;
    
    
  });
  labels.forEach((name, i) => {
    const y = yScale(i);
    const bar = svgEl('line', {x1: xScale(low[i]), x2: xScale(high[i]), y1: y, y2: y, stroke: '#111', 'stroke-width': 2}, host);
    
    
    const c1 = svgEl('line', {x1: xScale(low[i]), x2: xScale(low[i]), y1: y - 4.5, y2: y + 4.5, stroke: '#111', 'stroke-width': 2}, host);
    
    
    const c2 = svgEl('line', {x1: xScale(high[i]), x2: xScale(high[i]), y1: y - 4.5, y2: y + 4.5, stroke: '#111', 'stroke-width': 2}, host);
    
    
    const dot = svgEl('circle', {cx: xScale(f3[i]), cy: y, r: 5.9, fill: '#ff9f0a'}, host);
    
    
  });
  const border = svgEl('rect', {x: g.left, y: g.top, width: g.right - g.left, height: g.bottom - g.top, fill: 'none', stroke: '#333', 'stroke-width': 1.5}, host);
  
  
  const strip = svgEl('rect', {x: g.left, y: g.stripTop, width: g.right - g.left, height: g.top - g.stripTop, fill: '#d9d9d9', stroke: '#333', 'stroke-width': 1.5}, host);
  
  
  const stripText = svgEl('text', {x: g.titleX, y: (g.stripTop + g.top) / 2, 'text-anchor': 'middle', 'dominant-baseline': 'central', 'font-size': 18.8, fill: '#222'}, host);
  stripText.textContent = title;
  
  
  const xTitle = svgEl('text', {x: g.xTitleX, y: g.xTitleY, 'text-anchor': 'middle', 'dominant-baseline': 'central', 'font-size': 17.3, fill: '#222'}, host);
  xTitle.textContent = 'f3 value';
  
  
}
drawForest('forest-song', 'Jiangsu_Song', songLabels, songF3, songLow, songHigh,
  {x30: 315.3, left: 303, right: 574, stripTop: 841, top: 877, bottom: 1179, yFirst: 895, yLast: 1161.7, titleX: 438, xTitleX: 432.5, xTitleY: 1224});
drawForest('forest-ming', 'Jiangsu_Ming', mingLabels, mingF3, mingLow, mingHigh,
  {x30: 879.3, left: 867.5, right: 1137.6, stripTop: 842, top: 878, bottom: 1179.3, yFirst: 896, yLast: 1162.3, titleX: 1002.5, xTitleX: 996.8, xTitleY: 1225});
drawForest('forest-qing', 'Jiangsu_Qing', qingLabels, qingF3, qingLow, qingHigh,
  {x30: 313, left: 301.2, right: 571.8, stripTop: 1283.3, top: 1320, bottom: 1621.3, yFirst: 1337.3, yLast: 1603.7, titleX: 436.3, xTitleX: 427.9, xTitleY: 1671.7});
drawForest('forest-qingo', 'Jiangsu_Qing_o', qingoLabels, qingoF3, qingoLow, qingoHigh,
  {x30: 876.3, left: 864.4, right: 1135, stripTop: 1285.7, top: 1322.3, bottom: 1623.7, yFirst: 1340, yLast: 1606.7, titleX: 999.5, xTitleX: 992.2, xTitleY: 1676.7});
</script>
</body>
</html>
